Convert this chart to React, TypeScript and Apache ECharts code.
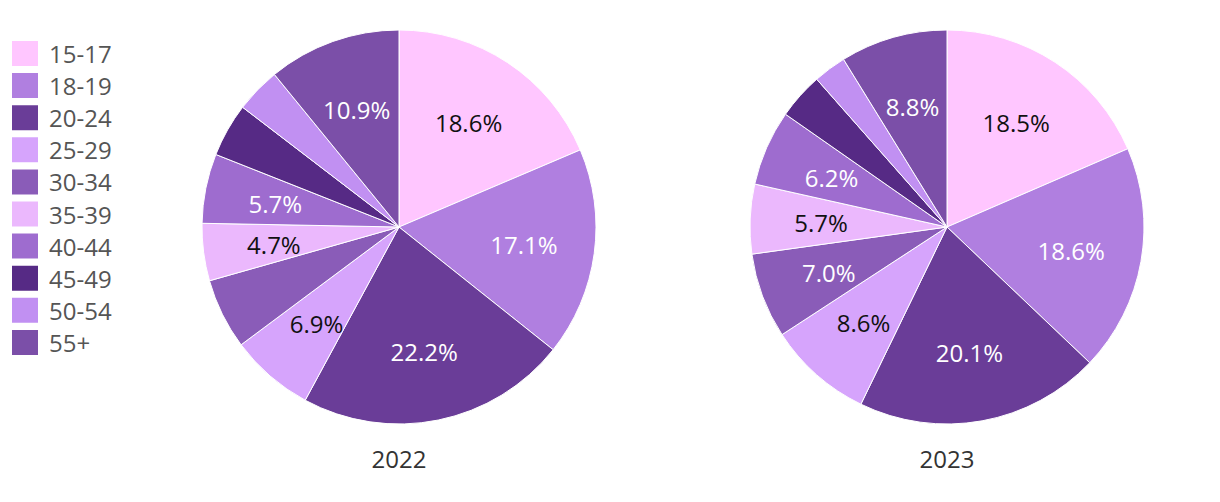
import React, { useEffect, useRef } from "react";
import * as echarts from "echarts";

const AGE_GROUPS = ["15-17", "18-19", "20-24", "25-29", "30-34", "35-39", "40-44", "45-49", "50-54", "55+"];
const YEARS = ["2022", "2023"];
const SHARE_2022 = [18.6, 17.1, 22.2, 6.9, 5.8, 4.7, 5.7, 4.4, 3.7, 10.9];
const SHARE_2023 = [18.5, 18.6, 20.1, 8.6, 7.0, 5.7, 6.2, 3.8, 2.7, 8.8];
const HIDDEN_LABELS_2022 = ["30-34", "45-49", "50-54"];
const HIDDEN_LABELS_2023 = ["45-49", "50-54"];
const COLORS = ["#ffc6ff", "#b07fe0", "#6a3d98", "#d6a4fc", "#8a5cb8", "#ebb8fd", "#9e6ccf", "#562a85", "#c190f2", "#7b4fa8"];
const DARK_LABEL_GROUPS = ["15-17", "25-29", "35-39"];

const FONT = "'Open Sans', sans-serif";
const R = 197;
const CENTERS = [[399, 227], [947, 227]];

function buildSeries(values: number[], hidden: string[], center: number[]) {
  const base = {
    type: "pie",
    center,
    startAngle: 90,
    clockwise: true,
    avoidLabelOverlap: false,
    silent: true,
    emphasis: { disabled: true },
    labelLine: { show: false },
  };
  const visible = {
    ...base,
    radius: [0, R],
    label: { show: false },
    itemStyle: { borderColor: "#ffffff", borderWidth: 1 },
    data: AGE_GROUPS.map((name, i) => ({ name, value: values[i], itemStyle: { color: COLORS[i] } })),
  };
  const labels = {
    ...base,
    radius: [R * 0.25, R],
    itemStyle: { color: "rgba(0,0,0,0)", borderWidth: 0 },
    data: AGE_GROUPS.map((name, i) => ({
      name,
      value: values[i],
      label: {
        show: !hidden.includes(name),
        position: "inside",
        formatter: (p: any) => `${Number(p.value).toFixed(1)}%`,
        color: DARK_LABEL_GROUPS.includes(name) ? "#111111" : "#ffffff",
        fontSize: 24,
        lineHeight: 24,
        fontFamily: FONT,
        offset: [0, 1],
      },
    })),
  };
  return [visible, labels];
}

export default function App() {
  const ref = useRef<HTMLDivElement>(null);
  useEffect(() => {
    if (!ref.current) return;
    const chart = echarts.init(ref.current, null, { renderer: "svg" });
    const s22 = buildSeries(SHARE_2022, HIDDEN_LABELS_2022, CENTERS[0]);
    const s23 = buildSeries(SHARE_2023, HIDDEN_LABELS_2023, CENTERS[1]);
    chart.setOption({
      animation: false,
      backgroundColor: "#ffffff",
      title: YEARS.map((y, i) => ({
        text: y,
        left: CENTERS[i][0],
        top: 444,
        padding: 0,
        textAlign: "center",
        textStyle: { fontSize: 24, lineHeight: 28, fontWeight: "normal", color: "#333333", fontFamily: FONT },
      })),
      legend: {
        orient: "vertical",
        left: 10,
        top: 38.5,
        padding: 0,
        icon: "rect",
        itemWidth: 28,
        itemHeight: 27,
        itemGap: 2.1,
        data: AGE_GROUPS,
        textStyle: { fontSize: 24, lineHeight: 24, color: "#555555", fontFamily: FONT, padding: [6, 0, 0, 5] },
      },
      series: [s22[0], s23[0], s22[1], s23[1]],
    });
    return () => chart.dispose();
  }, []);
  return <div ref={ref} style={{ position: "fixed", left: 0, top: 0, width: 1220, height: 502 }} />;
}
